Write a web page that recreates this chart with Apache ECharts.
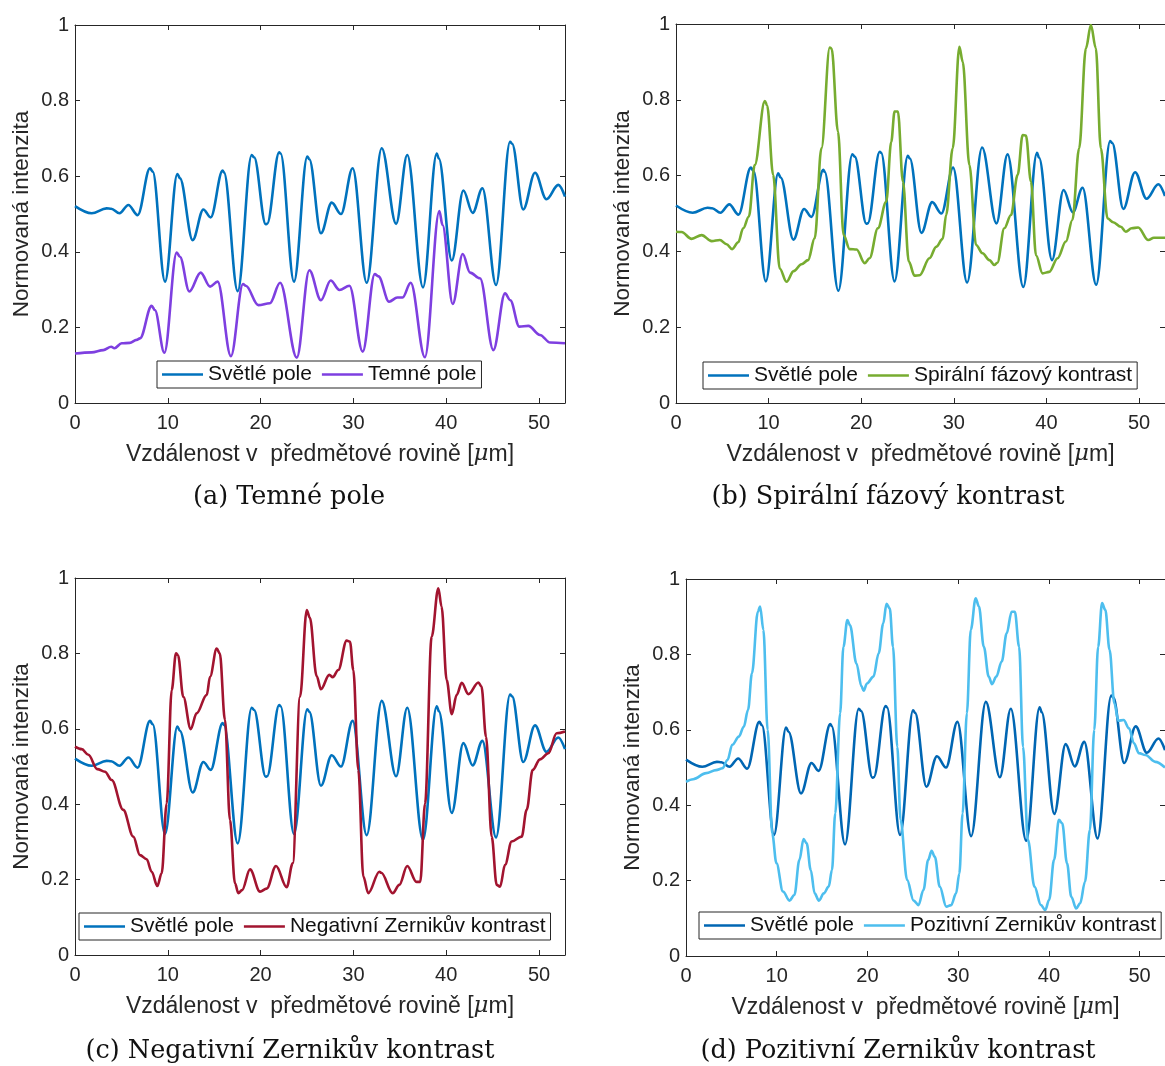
<!DOCTYPE html>
<html lang="cs">
  <head>
    <meta charset="UTF-8" />
    <title>Normovaná intenzita – porovnání kontrastních metod</title>
    <script src="https://cdn.jsdelivr.net/npm/echarts@6/dist/echarts.min.js"></script>
    <style>
      * { margin: 0; padding: 0; box-sizing: border-box; }
      body { background: #fff; }
      #chart { width: 1165px; height: 1066px; }
    </style>
  </head>
  <body>
    <div id="chart"></div>
    <script>
      /* ---------- data: [x µm, normovaná intenzita] ---------- */
      const svetlePole = [
        [0, 0.521], [1.8, 0.502], [3.4, 0.515], [3.9, 0.514], [4.8, 0.502], [5.75, 0.524],
        [6.75, 0.497], [8.08, 0.621], [8.37, 0.612], [9.7, 0.321], [11.03, 0.606], [11.3, 0.595],
        [12.68, 0.431], [13.83, 0.512], [14.62, 0.491], [15.91, 0.615], [16.05, 0.61], [17.53, 0.296],
        [19.04, 0.656], [19.3, 0.65], [20.55, 0.473], [20.7, 0.474], [22.0, 0.663], [22.15, 0.66],
        [23.6, 0.321], [25.03, 0.652], [25.25, 0.645], [26.5, 0.449], [27.66, 0.53], [28.66, 0.5],
        [29.92, 0.621], [31.43, 0.318], [33.05, 0.674], [34.6, 0.474], [35.8, 0.656], [37.5, 0.306],
        [38.98, 0.66], [39.2, 0.647], [40.6, 0.377], [41.85, 0.562], [42.85, 0.503], [43.9, 0.568],
        [45.37, 0.312], [46.88, 0.691], [47.1, 0.686], [48.3, 0.512], [49.57, 0.609], [50.8, 0.539],
        [52.08, 0.577], [52.8, 0.546]
      ];
      const temnePole = [
        [0, 0.131], [1.8, 0.134], [3.05, 0.14], [3.9, 0.149], [4.25, 0.145], [5.03, 0.158],
        [5.9, 0.159], [6.64, 0.167], [7.0, 0.171], [8.26, 0.257], [8.6, 0.246], [9.63, 0.133],
        [10.96, 0.398], [11.3, 0.387], [12.32, 0.295], [13.54, 0.345], [14.55, 0.308], [15.37, 0.321],
        [16.8, 0.124], [18.1, 0.315], [18.4, 0.31], [19.76, 0.259], [21.0, 0.264], [22.1, 0.318],
        [23.9, 0.12], [25.25, 0.351], [26.5, 0.272], [27.55, 0.324], [28.5, 0.299], [29.57, 0.31],
        [31.0, 0.136], [32.3, 0.341], [32.7, 0.335], [33.84, 0.268], [34.73, 0.279], [35.3, 0.279],
        [36.17, 0.318], [37.7, 0.121], [39.26, 0.508], [39.6, 0.471], [40.7, 0.262], [41.78, 0.394],
        [42.57, 0.345], [43.64, 0.33], [45.08, 0.14], [46.34, 0.29], [46.9, 0.272], [47.88, 0.202],
        [48.85, 0.204], [50.1, 0.18], [51.2, 0.16], [52.8, 0.158]
      ];
      const spiralniKontrast = [
        [0, 0.452], [0.6, 0.451], [1.69, 0.433], [2.77, 0.443], [3.85, 0.427], [4.74, 0.43],
        [5.46, 0.419], [6.07, 0.406], [6.72, 0.424], [7.26, 0.461], [7.87, 0.492], [8.5, 0.628],
        [9.59, 0.797], [9.84, 0.785], [10.49, 0.602], [11.2, 0.355], [11.93, 0.32], [12.7, 0.348],
        [13.55, 0.366], [14.26, 0.377], [14.98, 0.435], [15.7, 0.672], [16.6, 0.938], [16.8, 0.935],
        [17.49, 0.716], [18.1, 0.443], [18.75, 0.406], [19.5, 0.405], [20.37, 0.369], [20.9, 0.382],
        [21.8, 0.461], [22.7, 0.531], [23.24, 0.689], [23.6, 0.769], [23.96, 0.769], [24.5, 0.584],
        [25.14, 0.373], [25.75, 0.336], [26.3, 0.337], [27.37, 0.382], [28.09, 0.412], [28.8, 0.433],
        [29.17, 0.496], [29.88, 0.672], [30.6, 0.94], [30.96, 0.9], [31.68, 0.628], [32.4, 0.417],
        [33.1, 0.395], [33.84, 0.377], [34.37, 0.364], [34.7, 0.37], [35.45, 0.461], [36.17, 0.496],
        [36.89, 0.602], [37.43, 0.707], [37.78, 0.706], [38.33, 0.584], [38.87, 0.39], [39.58, 0.342],
        [40.3, 0.346], [41.2, 0.382], [42.1, 0.426], [42.8, 0.483], [43.53, 0.672], [44.26, 0.936],
        [44.8, 0.997], [45.33, 0.936], [45.87, 0.672], [46.6, 0.487], [47.2, 0.477], [48.03, 0.465],
        [48.57, 0.452], [49.2, 0.461], [49.9, 0.463], [51.0, 0.43], [51.6, 0.436], [52.8, 0.436]
      ];
      const negativniZernike = [
        [0, 0.553], [0.72, 0.546], [1.44, 0.531], [2.4, 0.493], [3.23, 0.486], [3.95, 0.464],
        [5.2, 0.385], [6.28, 0.314], [7.0, 0.265], [7.72, 0.254], [8.26, 0.221], [8.87, 0.183],
        [9.34, 0.217], [9.88, 0.402], [10.42, 0.703], [10.88, 0.8], [11.1, 0.795], [11.67, 0.685],
        [12.47, 0.599], [13.1, 0.641], [14.2, 0.69], [14.55, 0.738], [15.27, 0.813], [15.6, 0.8],
        [16.16, 0.623], [16.7, 0.358], [17.24, 0.19], [17.6, 0.164], [18.0, 0.172], [18.86, 0.227],
        [19.94, 0.168], [20.65, 0.176], [21.66, 0.236], [22.81, 0.18], [23.46, 0.243], [24.25, 0.685],
        [24.97, 0.915], [25.3, 0.895], [26.04, 0.74], [26.5, 0.705], [27.4, 0.743], [27.77, 0.737],
        [28.37, 0.756], [29.27, 0.834], [29.63, 0.831], [29.99, 0.756], [30.53, 0.491], [31.07, 0.208],
        [31.6, 0.164], [32.8, 0.221], [33.0, 0.218], [34.23, 0.164], [34.95, 0.186], [35.8, 0.236],
        [36.8, 0.194], [37.2, 0.194], [37.72, 0.402], [38.43, 0.844], [39.15, 0.973], [39.5, 0.924],
        [40.05, 0.729], [40.6, 0.639], [41.13, 0.69], [41.67, 0.722], [42.39, 0.692], [43.47, 0.723],
        [43.8, 0.712], [44.29, 0.579], [44.9, 0.314], [45.44, 0.186], [45.8, 0.181], [46.34, 0.239],
        [47.05, 0.301], [48.13, 0.314], [48.67, 0.385], [49.32, 0.491], [50.1, 0.519], [51.0, 0.535],
        [51.9, 0.588], [52.8, 0.593]
      ];
      const pozitivniZernike = [
        [0, 0.462], [0.79, 0.469], [2.23, 0.485], [3.31, 0.493], [4.03, 0.498], [4.57, 0.52],
        [5.1, 0.56], [5.83, 0.582], [6.37, 0.608], [6.84, 0.653], [7.27, 0.75], [7.92, 0.913],
        [8.17, 0.927], [8.53, 0.865], [9.0, 0.6], [9.5, 0.325], [9.97, 0.246], [10.69, 0.171],
        [11.41, 0.147], [11.95, 0.162], [12.5, 0.255], [12.96, 0.31], [13.3, 0.299], [13.75, 0.228],
        [14.18, 0.166], [14.65, 0.147], [15.19, 0.166], [15.73, 0.184], [16.09, 0.228], [16.45, 0.378],
        [16.99, 0.644], [17.35, 0.82], [17.79, 0.891], [18.07, 0.878], [18.79, 0.776], [19.33, 0.716],
        [19.58, 0.704], [19.95, 0.723], [20.66, 0.741], [21.24, 0.803], [21.74, 0.882], [22.1, 0.934],
        [22.46, 0.922], [22.82, 0.82], [23.29, 0.555], [23.65, 0.361], [24.37, 0.202], [25.09, 0.147],
        [25.63, 0.135], [26.17, 0.175], [26.7, 0.255], [27.07, 0.279], [27.43, 0.263], [27.97, 0.184],
        [28.69, 0.131], [29.23, 0.135], [29.77, 0.166], [30.13, 0.219], [30.49, 0.378], [30.96, 0.644],
        [31.39, 0.865], [31.93, 0.949], [32.29, 0.927], [32.83, 0.82], [33.37, 0.741], [33.73, 0.721],
        [34.2, 0.741], [34.8, 0.781], [35.35, 0.856], [35.89, 0.913], [36.25, 0.913], [36.72, 0.82],
        [37.15, 0.555], [37.69, 0.308], [38.41, 0.184], [39.13, 0.135], [39.6, 0.122], [40.03, 0.149],
        [40.57, 0.255], [41.11, 0.361], [41.47, 0.352], [42.0, 0.246], [42.47, 0.157], [43.01, 0.126],
        [43.45, 0.14], [43.98, 0.197], [44.52, 0.334], [45.0, 0.6], [45.43, 0.82], [45.86, 0.936],
        [46.22, 0.918], [46.69, 0.812], [47.22, 0.67], [47.66, 0.624], [48.24, 0.626], [48.84, 0.604],
        [49.38, 0.564], [49.92, 0.538], [50.65, 0.533], [51.73, 0.515], [52.8, 0.5]
      ];

      const xMax = 52.8;
      const xStep = 10;
      const yStep = 0.2;
      const xName = "Vzdálenost v  předmětové rovině [{mu|μ}m]";
      const yName = "Normovaná intenzita";

      /* ---------- layout of the 4 subplots ---------- */
      const panels = [
        {
          grid: { left: 75, top: 25, width: 490, height: 378 },
          legend: { left: 157, top: 361 },
          caption: { x: 289, y: 497, text: "(a) Temné pole" },
          series: [
            { name: "Světlé pole", data: svetlePole, color: "#0072BD" },
            { name: "Temné pole", data: temnePole, color: "#7E3FE0" },
          ],
        },
        {
          grid: { left: 676, top: 24, width: 490, height: 379 },
          legend: { left: 703, top: 362 },
          caption: { x: 888, y: 497, text: "(b) Spirální fázový kontrast" },
          series: [
            { name: "Světlé pole", data: svetlePole, color: "#0072BD" },
            { name: "Spirální fázový kontrast", data: spiralniKontrast, color: "#77AC30" },
          ],
        },
        {
          grid: { left: 75, top: 578, width: 490, height: 377 },
          legend: { left: 79, top: 913 },
          caption: { x: 290, y: 1051, text: "(c) Negativní Zernikův kontrast" },
          series: [
            { name: "Světlé pole", data: svetlePole, color: "#0072BD" },
            { name: "Negativní Zernikův kontrast", data: negativniZernike, color: "#A2142F" },
          ],
        },
        {
          grid: { left: 686, top: 579, width: 489, height: 377 },
          legend: { left: 699, top: 912 },
          caption: { x: 898, y: 1051, text: "(d) Pozitivní Zernikův kontrast" },
          series: [
            { name: "Světlé pole", data: svetlePole, color: "#0066B3" },
            { name: "Pozitivní Zernikův kontrast", data: pozitivniZernike, color: "#4DBEEE" },
          ],
        },
      ];

      /* ---------- build option ---------- */
      const axisColor = "#262626";
      const sans = "Liberation Sans, Arial, sans-serif";
      const tick = { show: true, inside: true, length: 5, lineStyle: { color: axisColor } };
      const line = { show: true, onZero: false, lineStyle: { color: axisColor, width: 1 } };

      const option = {
        animation: false,
        backgroundColor: "#fff",
        grid: [],
        xAxis: [],
        yAxis: [],
        legend: [],
        series: [],
        graphic: [],
      };

      panels.forEach((p, i) => {
        option.grid.push(p.grid);
        const xBase = { type: "value", gridIndex: i, min: 0, max: xMax, interval: xStep, splitLine: { show: false } };
        const yBase = { type: "value", gridIndex: i, min: 0, max: 1, interval: yStep, splitLine: { show: false } };

        option.xAxis.push({
          ...xBase,
          position: "bottom",
          axisLine: line,
          axisTick: tick,
          axisLabel: { color: axisColor, fontSize: 20, fontFamily: sans, margin: 10, showMaxLabel: false },
          name: xName,
          nameLocation: "middle",
          nameGap: 40,
          nameTextStyle: {
            color: axisColor,
            fontSize: 23,
            fontFamily: sans,
            rich: { mu: { fontSize: 23, fontStyle: "italic", fontFamily: "DejaVu Serif", color: axisColor } },
          },
        });
        option.xAxis.push({ ...xBase, position: "top", axisLine: line, axisTick: tick, axisLabel: { show: false } });

        option.yAxis.push({
          ...yBase,
          position: "left",
          axisLine: line,
          axisTick: tick,
          axisLabel: { color: axisColor, fontSize: 20, fontFamily: sans, margin: 6 },
          name: yName,
          nameLocation: "middle",
          nameGap: 42,
          nameTextStyle: { color: axisColor, fontSize: 22.5, fontFamily: sans },
        });
        option.yAxis.push({ ...yBase, position: "right", axisLine: line, axisTick: tick, axisLabel: { show: false } });

        option.legend.push({
          left: p.legend.left,
          top: p.legend.top,
          orient: "horizontal",
          icon: "rect",
          itemWidth: 41,
          itemHeight: 2.5,
          itemGap: 10,
          padding: [3, 5, 3, 5],
          borderColor: axisColor,
          borderWidth: 1,
          backgroundColor: "#fff",
          selectedMode: false,
          textStyle: { color: "#111", fontSize: 21, fontFamily: sans },
          data: p.series.map((s) => ({ name: s.name, itemStyle: { color: s.color } })),
        });

        p.series.forEach((s) => {
          option.series.push({
            name: s.name,
            type: "line",
            xAxisIndex: i * 2,
            yAxisIndex: i * 2,
            data: s.data,
            symbol: "none",
            smooth: 0.35,
            smoothMonotone: "x",
            color: s.color,
            lineStyle: { color: s.color, width: 2.6 },
            clip: true,
          });
        });

        option.graphic.push({
          type: "text",
          x: p.caption.x,
          y: p.caption.y,
          style: {
            text: p.caption.text,
            align: "center",
            verticalAlign: "middle",
            fontSize: 25.5,
            fontFamily: "DejaVu Serif",
            fill: "#111",
          },
        });
      });

      const chart = echarts.init(document.getElementById("chart"), null, { renderer: "canvas" });
      chart.setOption(option);
    </script>
  </body>
</html>
